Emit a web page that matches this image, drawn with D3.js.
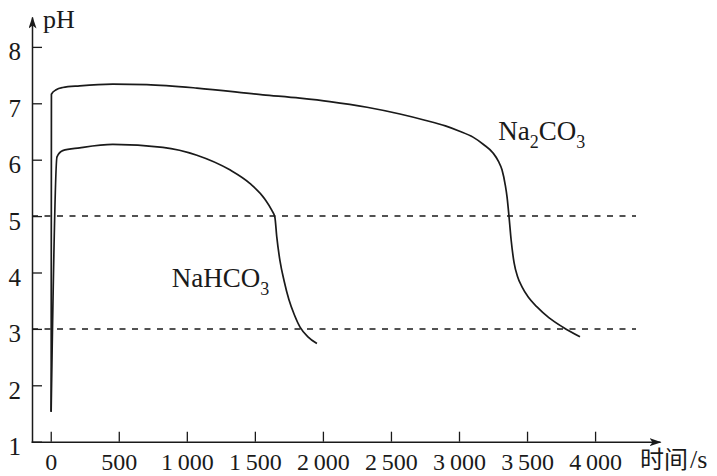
<!DOCTYPE html>
<html>
<head>
<meta charset="utf-8">
<script src="https://cdn.jsdelivr.net/npm/d3@7"></script>
<style>
  html, body { margin: 0; padding: 0; background: #fff; }
  svg { display: block; }
  text { font-family: "Liberation Serif", "Times New Roman", serif; fill: #1a1a1a; }
</style>
</head>
<body>
<svg id="chart" width="717" height="476"></svg>
<script>
// ---- data ----
const xTicks = [0, 500, 1000, 1500, 2000, 2500, 3000, 3500, 4000];
const yTicks = [1, 2, 3, 4, 5, 6, 7, 8];
const refLevels = [5, 3];

const na2co3Time = [3, 5, 40, 88, 213, 456, 706, 1074, 1559, 1831, 2051, 2324, 2566, 2750, 2900, 3000, 3103, 3180, 3250, 3290, 3316, 3340, 3353, 3368, 3383, 3405, 3430, 3464, 3510, 3573, 3660, 3764, 3889];
const na2co3PH   = [1.53, 7.16, 7.24, 7.28, 7.31, 7.34, 7.33, 7.27, 7.15, 7.09, 7.03, 6.93, 6.81, 6.70, 6.60, 6.51, 6.40, 6.27, 6.12, 5.97, 5.82, 5.55, 5.34, 4.98, 4.58, 4.17, 3.93, 3.74, 3.56, 3.39, 3.20, 3.03, 2.86];

const nahco3Time = [3, 46, 88, 213, 456, 824, 1074, 1316, 1463, 1574, 1625, 1647, 1661, 1685, 1715, 1750, 1790, 1832, 1890, 1956];
const nahco3PH   = [1.53, 6.05, 6.16, 6.21, 6.27, 6.22, 6.08, 5.82, 5.58, 5.30, 5.10, 4.98, 4.63, 4.20, 3.85, 3.52, 3.25, 3.03, 2.86, 2.74];

const seriesLabels = [
  { base: "Na", sub: "2", rest: "CO", sub2: "3", t: 3288, ph: 6.35 },
  { base: "NaHCO", sub: "3", t: 890, ph: 3.75 }
];

// ---- scales ----
const svg = d3.select("#chart");
const x = d3.scaleLinear().domain([-145, 4477]).range([31, 660]);
const y = d3.scaleLinear().domain([1, 8.53]).range([441.7, 17]);
const ink = "#1a1a1a";

const defs = svg.append("defs");
defs.append("marker")
  .attr("id", "arrow").attr("viewBox", "0 0 12 8")
  .attr("refX", 11).attr("refY", 4)
  .attr("markerWidth", 12).attr("markerHeight", 8)
  .attr("markerUnits", "userSpaceOnUse")
  .attr("orient", "auto")
  .append("path").attr("d", "M0,0L12,4L0,8L3,4Z").attr("fill", ink);

const fmt = d3.formatLocale({ decimal: ".", thousands: "\u2009", grouping: [3], currency: ["", ""] }).format(",d");

// x axis
const gx = svg.append("g").attr("transform", `translate(0,${y(1)})`)
  .call(d3.axisBottom(x).tickValues(xTicks).tickSizeInner(-10).tickSizeOuter(0).tickPadding(11).tickFormat(fmt));
gx.select(".domain").attr("stroke", ink).attr("stroke-width", 1.5).attr("marker-end", "url(#arrow)");
gx.selectAll(".tick line").attr("stroke", ink).attr("stroke-width", 1.3);
gx.selectAll(".tick text").attr("font-size", 24).attr("font-family", "Liberation Serif, serif").attr("fill", ink).attr("dy", "0.71em");

// y axis
const gy = svg.append("g").attr("transform", `translate(32,0)`)
  .call(d3.axisLeft(y).tickValues(yTicks).tickSizeInner(-10).tickSizeOuter(0).tickPadding(11).tickFormat(d3.format("d")));
gy.select(".domain").attr("stroke", ink).attr("stroke-width", 1.5).attr("marker-end", "url(#arrow)");
gy.selectAll(".tick line").attr("stroke", ink).attr("stroke-width", 1.3);
gy.selectAll(".tick text").attr("font-size", 25).attr("font-family", "Liberation Serif, serif").attr("fill", ink).attr("dy", "0.52em");

// axis titles
svg.append("text").attr("x", 43).attr("y", 28).attr("font-size", 26).text("pH");
const xt = svg.append("text").attr("x", 640).attr("y", 468).attr("font-size", 26);
xt.append("tspan").attr("font-family", "Noto Sans CJK SC, sans-serif").attr("font-size", 24).text("时间");
xt.append("tspan").attr("dx", 2).text("/s");

// reference dashed lines
svg.append("g").selectAll("line").data(refLevels).join("line")
  .attr("x1", 32).attr("x2", 636)
  .attr("y1", d => y(d)).attr("y2", d => y(d))
  .attr("stroke", ink).attr("stroke-width", 1.5).attr("stroke-dasharray", "6,6.5");

// curves
const line = d3.line().x(d => x(d[0])).y(d => y(d[1])).curve(d3.curveMonotoneX);
const series = [
  d3.zip(na2co3Time, na2co3PH),
  d3.zip(nahco3Time, nahco3PH)
];
svg.append("g").selectAll("path").data(series).join("path")
  .attr("d", line).attr("fill", "none").attr("stroke", ink).attr("stroke-width", 1.7);

// series labels
const lbl = svg.append("g").selectAll("text").data(seriesLabels).join("text")
  .attr("x", d => x(d.t)).attr("y", d => y(d.ph)).attr("font-size", 27);
lbl.each(function(d) {
  const t = d3.select(this);
  t.append("tspan").text(d.base);
  t.append("tspan").attr("font-size", 18).attr("dy", 8).text(d.sub);
  if (d.rest) {
    t.append("tspan").attr("dy", -8).text(d.rest);
    t.append("tspan").attr("font-size", 18).attr("dy", 8).text(d.sub2);
  }
});
</script>
</body>
</html>
